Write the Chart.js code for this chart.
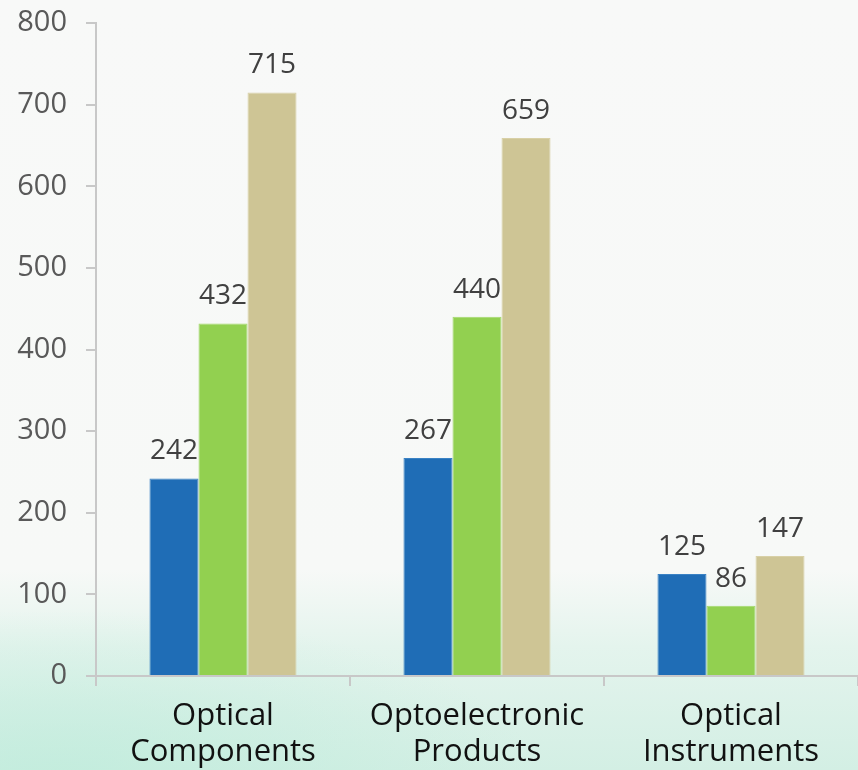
<!DOCTYPE html>
<html>
<head>
<meta charset="utf-8">
<script src="https://cdn.jsdelivr.net/npm/chart.js@4"></script>
<style>
    html, body { margin: 0; padding: 0; }
    body {
        width: 858px;
        height: 770px;
        overflow: hidden;
        background:
            radial-gradient(ellipse 480px 170px at 60px 780px, rgba(192, 236, 220, 0.85), rgba(192, 236, 220, 0) 100%),
            linear-gradient(to bottom, #f8f9f8 0%, #f7f9f7 74%, #e4f4ed 84%, #d3efe4 100%);
    }
    #wrap { position: relative; width: 858px; height: 770px; }
</style>
</head>
<body>
<div id="wrap"><canvas id="barChart"></canvas></div>
<script>
const categories = [["Optical", "Components"], ["Optoelectronic", "Products"], ["Optical", "Instruments"]];
const seriesA = [242, 267, 125];
const seriesB = [432, 440, 86];
const seriesC = [715, 659, 147];
const yTicks = [0, 100, 200, 300, 400, 500, 600, 700, 800];

const axisGrey = "#c8c8c8";
const fontFamily = "'Open Sans', sans-serif";

// values written above every bar
const valueLabels = {
    id: "valueLabels",
    afterDatasetsDraw(chart) {
        const ctx = chart.ctx;
        ctx.save();
        ctx.font = "28px " + fontFamily;
        ctx.fillStyle = "#404040";
        ctx.textAlign = "center";
        ctx.textBaseline = "alphabetic";
        chart.data.datasets.forEach((ds, i) => {
            chart.getDatasetMeta(i).data.forEach((bar, j) => {
                ctx.fillText(ds.data[j], bar.x, bar.y - 19);
            });
        });
        ctx.restore();
    }
};

const ctxBar = document.getElementById("barChart").getContext("2d");
new Chart(ctxBar, {
    type: "bar",
    data: {
        labels: categories,
        datasets: [
            { label: "A", data: seriesA, backgroundColor: "#1f6db6", borderColor: "#3a82c4", borderWidth: 1 },
            { label: "B", data: seriesB, backgroundColor: "#92d050", borderColor: "#a3d96a", borderWidth: 1 },
            { label: "C", data: seriesC, backgroundColor: "#cec595", borderColor: "#d8d0a6", borderWidth: 1 }
        ]
    },
    options: {
        responsive: true,
        maintainAspectRatio: false,
        animation: false,
        layout: { padding: 0 },
        plugins: {
            legend: { display: false },
            tooltip: { enabled: false }
        },
        datasets: {
            bar: { barPercentage: 1, categoryPercentage: 0.579 }
        },
        scales: {
            x: {
                afterFit: (scale) => { scale.height = 94; },
                grid: { drawOnChartArea: false, drawTicks: true, tickLength: 10, color: axisGrey, lineWidth: 2 },
                border: { color: axisGrey, width: 2 },
                ticks: {
                    color: "#111111",
                    font: { family: fontFamily, size: 31, lineHeight: 1.16 },
                    padding: 12,
                    maxRotation: 0
                }
            },
            y: {
                min: 0,
                max: 800,
                afterBuildTicks: (axis) => { axis.ticks = yTicks.map(v => ({ value: v })); },
                afterFit: (scale) => {
                    scale.width = 96;
                    scale.paddingTop = 23;
                    scale.paddingBottom = 0;
                },
                grid: { drawOnChartArea: false, drawTicks: true, tickLength: 10, color: axisGrey, lineWidth: 2 },
                border: { color: axisGrey, width: 2 },
                ticks: {
                    color: "#595959",
                    font: { family: fontFamily, size: 29 },
                    padding: 19
                }
            }
        }
    },
    plugins: [valueLabels]
});
</script>
</body>
</html>
